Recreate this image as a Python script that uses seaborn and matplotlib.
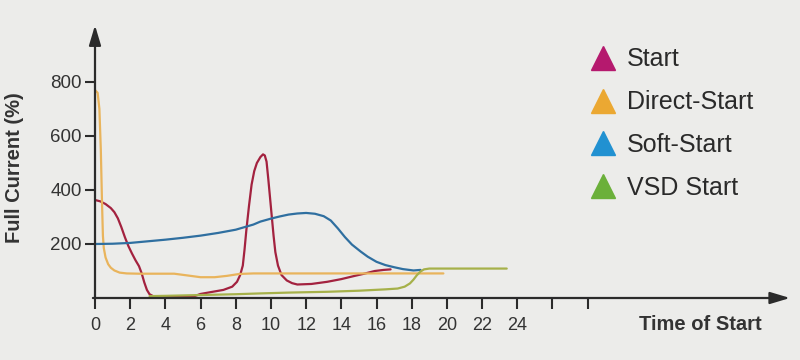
import matplotlib
matplotlib.use("Agg")
import matplotlib.pyplot as plt
from matplotlib.lines import Line2D
import seaborn as sns
import pandas as pd

# ---- data ----
start_x = [0, 0.3, 0.6, 0.9, 1.1, 1.3, 1.5, 1.7, 1.9, 2.1, 2.3, 2.5, 2.65, 2.8, 2.95, 3.1, 3.3, 3.6,
           4.5, 5.4, 5.7, 6.0, 6.6, 7.3, 7.8, 8.07, 8.25, 8.4, 8.5, 8.6, 8.75, 8.9, 9.05, 9.2, 9.4,
           9.55, 9.65, 9.75, 9.85, 9.95, 10.05, 10.15, 10.25, 10.4, 10.6, 10.9, 11.2, 11.5, 12.3,
           13.2, 14.0, 14.7, 15.3, 15.9, 16.4, 16.8]
start_y = [363, 358, 348, 333, 318, 295, 262, 225, 192, 165, 140, 118, 92, 58, 30, 14, 7, 5,
           5, 5, 8, 15, 22, 30, 42, 60, 85, 120, 180, 250, 340, 420, 470, 500, 522,
           532, 528, 505, 440, 370, 300, 230, 170, 120, 85, 65, 55, 50, 52,
           60, 70, 81, 90, 100, 104, 106]

direct_x = [0, 0.15, 0.25, 0.33, 0.4, 0.45, 0.5, 0.6, 0.75, 0.9, 1.1, 1.4, 1.8, 2.5, 3.5, 4.5,
            5.2, 6.0, 6.8, 7.5, 8.2, 9.0, 12, 16, 19.8]
direct_y = [770, 760, 700, 550, 350, 230, 185, 150, 125, 112, 102, 94, 91, 90, 90, 90,
            84, 77, 77, 82, 89, 91, 91, 91, 91]

soft_x = [0, 1, 2, 3, 4, 5, 6, 7, 8, 9, 9.4, 10, 10.5, 11, 11.5, 12, 12.5, 13.0, 13.4, 13.8,
          14.2, 14.6, 15.1, 15.5, 16.0, 16.5, 17.0, 17.5, 18.1, 18.5]
soft_y = [200, 201, 204, 210, 216, 223, 231, 241, 253, 272, 283, 294, 302, 309, 313, 315, 312,
          303, 287, 258, 226, 198, 172, 153, 134, 122, 114, 107, 102, 104]

vsd_x = [3.1, 4, 6, 8, 9.4, 11, 13.2, 15, 16.5, 17.2, 17.6, 17.9, 18.1, 18.3, 18.5, 18.7, 19.0, 23.4]
vsd_y = [7, 8, 11, 14, 17, 20, 23, 27, 32, 35, 42, 54, 68, 85, 98, 106, 109, 109]

series_names = ["Start", "Direct-Start", "Soft-Start", "VSD Start"]
line_colors = ["#a3223f", "#e9b45c", "#2f6fa0", "#a6b14a"]
legend_colors = ["#b5196e", "#eba832", "#2191d1", "#6bb03a"]

x_ticks = list(range(0, 30, 2))
x_tick_labels = [str(v) if v <= 24 else "" for v in x_ticks]
y_ticks = [200, 400, 600, 800]

frames = []
for name, xs, ys in zip(series_names,
                        [start_x, direct_x, soft_x, vsd_x],
                        [start_y, direct_y, soft_y, vsd_y]):
    frames.append(pd.DataFrame({"time": xs, "current": ys, "series": name}))
df = pd.concat(frames, ignore_index=True)

# ---- figure ----
sns.set_theme(style="white")
plt.rcParams["font.family"] = ["Liberation Sans", "DejaVu Sans"]
bg = "#ececea"
fig = plt.figure(figsize=(8, 3.6), dpi=100, facecolor=bg)
ax = fig.add_axes([95 / 800, 62 / 360, 695 / 800, 272.7 / 360])
ax.set_facecolor(bg)

sns.lineplot(data=df, x="time", y="current", hue="series", hue_order=series_names,
             palette=dict(zip(series_names, line_colors)), sort=False, estimator=None,
             linewidth=1.6, legend=False, ax=ax)
for ln in ax.get_lines():
    ln.set_solid_joinstyle("round")
    ln.set_solid_capstyle("round")

ax.set_xlim(0, 39.5)
ax.set_ylim(0, 1010)
for s in ax.spines.values():
    s.set_visible(False)

axis_col = "#2b2b2b"
ax.annotate("", xy=(1.0, 0), xytext=(-0.003, 0), xycoords="axes fraction",
            arrowprops=dict(arrowstyle="-|>,head_length=1.0,head_width=0.3", color=axis_col, lw=1.6,
                            shrinkA=0, shrinkB=0))
ax.annotate("", xy=(0, 1.0), xytext=(0, 0), xycoords="axes fraction",
            arrowprops=dict(arrowstyle="-|>,head_length=1.0,head_width=0.3", color=axis_col, lw=1.6,
                            shrinkA=0, shrinkB=0))

ax.set_xticks(x_ticks)
ax.set_xticklabels(x_tick_labels)
ax.set_yticks(y_ticks)
ax.tick_params(axis="x", direction="out", length=8, width=1.5, color=axis_col,
               labelsize=13, labelcolor="#333333", pad=6, bottom=True)
ax.tick_params(axis="y", direction="out", length=7.5, width=1.5, color=axis_col,
               labelsize=13.5, labelcolor="#333333", pad=2, left=True)

ax.set_xlabel("")
ax.set_ylabel("")
fig.text(15 / 800, 1 - 168 / 360, "Full Current (%)", rotation=90, ha="center", va="center",
         fontsize=14.5, fontweight="bold", color="#333333")
fig.text(700 / 800, 1 - 325 / 360, "Time of Start", ha="center", va="center",
         fontsize=14.5, fontweight="bold", color="#333333")

handles = [Line2D([], [], marker="^", linestyle="none", color=c, markersize=17) for c in legend_colors]
leg = fig.legend(handles, series_names, loc="upper left", bbox_to_anchor=(573 / 800, 1 - 35 / 360),
                 frameon=False, fontsize=18, labelcolor="#2a2a2a", handletextpad=0.25,
                 labelspacing=0.75, handlelength=1.4, borderpad=0)

fig.savefig("out.png", dpi=100, facecolor=bg)
